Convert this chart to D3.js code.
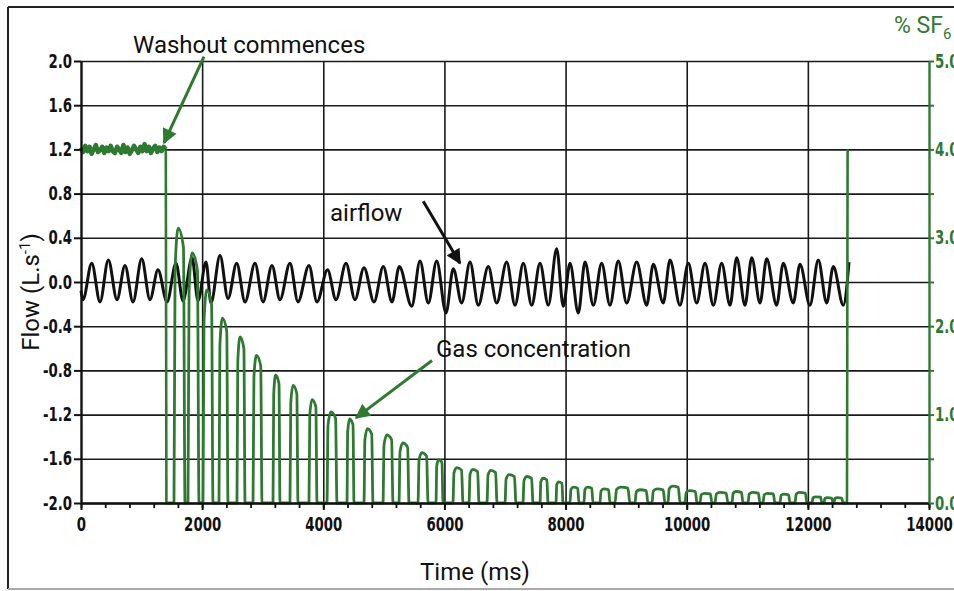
<!DOCTYPE html>
<html>
<head>
<meta charset="utf-8">
<script src="https://cdn.jsdelivr.net/npm/d3@7"></script>
<style>
body { margin: 0; background: #fff; overflow: hidden; }
.tick text { font-family: "Liberation Sans Narrow", "DejaVu Sans Condensed", sans-serif; font-weight: bold; }
</style>
</head>
<body>
<script>
/* global d3:false */

// Airflow (L/s): local peaks and troughs
var flowPeakT = [177, 451, 726, 1002, 1271, 1568, 1833, 2064, 2295, 2570,
	2873, 3153, 3450, 3764, 4070, 4375, 4672, 4991, 5255, 5597,
	5872, 6146, 6422, 6724, 7028, 7302, 7578, 7853, 8073, 8321,
	8596, 8870, 9174, 9448, 9724, 10026, 10302, 10577, 10825, 11073,
	11320, 11594, 11870, 12172, 12420];
var flowPeakV = [0.17, 0.20, 0.15, 0.21, 0.11, 0.17, 0.22, 0.18, 0.24, 0.17,
	0.17, 0.15, 0.17, 0.15, 0.11, 0.17, 0.13, 0.14, 0.14, 0.19,
	0.19, 0.12, 0.18, 0.14, 0.18, 0.17, 0.17, 0.30, 0.17, 0.18,
	0.17, 0.19, 0.18, 0.16, 0.20, 0.17, 0.17, 0.17, 0.22, 0.22,
	0.21, 0.17, 0.16, 0.20, 0.14];
var flowTroughT = [33, 314, 594, 858, 1139, 1420, 1684, 1932, 2146, 2427,
	2708, 3005, 3285, 3582, 3896, 4210, 4523, 4837, 5134, 5460,
	5734, 6026, 6285, 6559, 6863, 7165, 7441, 7715, 7962, 8210,
	8458, 8733, 9009, 9339, 9613, 9889, 10165, 10439, 10715, 10962,
	11210, 11485, 11759, 12035, 12311, 12585];
var flowTroughV = [-0.16, -0.18, -0.16, -0.18, -0.16, -0.18, -0.17, -0.17, -0.19, -0.15,
	-0.18, -0.18, -0.16, -0.18, -0.18, -0.16, -0.16, -0.18, -0.18, -0.22,
	-0.19, -0.28, -0.19, -0.21, -0.19, -0.21, -0.21, -0.21, -0.22, -0.28,
	-0.21, -0.21, -0.19, -0.21, -0.19, -0.21, -0.19, -0.21, -0.21, -0.21,
	-0.19, -0.21, -0.19, -0.21, -0.19, -0.21];
var flowStart = [0, -0.08];
var flowEnd = [12680, 0.18];

// % SF6 before washout, one sample every 35 ms
var preWashoutStep = 35;
var preWashoutV = [4.02, 3.97, 4.04, 3.98, 4.03, 3.95, 4.00, 4.05, 3.97, 3.99,
	4.03, 3.96, 4.02, 3.98, 4.04, 3.98, 3.96, 4.03, 4.00, 3.96,
	4.05, 3.97, 4.02, 3.95, 3.99, 4.04, 4.00, 3.96, 4.03, 3.98,
	4.06, 3.98, 4.03, 3.96, 4.01, 4.04, 3.97, 4.02, 3.98, 4.03, 4.00];
var washoutT = 1410;

// % SF6 pulses during washout: start, end (ms) and peak value
var gasRise = [1535, 1766, 2014, 2278, 2575, 2840, 3170, 3450, 3764, 4061,
	4391, 4672, 4986, 5250, 5564, 5861, 6141, 6406, 6703, 7000,
	7297, 7578, 7842, 8073, 8304, 8568, 8816, 9146, 9427, 9691,
	9972, 10219, 10467, 10748, 11012, 11259, 11540, 11788, 12068, 12266, 12431];
var gasFall = [1717, 1948, 2179, 2427, 2708, 2988, 3285, 3582, 3896, 4226,
	4507, 4820, 5151, 5415, 5729, 5976, 6306, 6571, 6868, 7181,
	7462, 7710, 7957, 8221, 8453, 8733, 9063, 9361, 9641, 9889,
	10170, 10417, 10681, 10929, 11210, 11457, 11705, 11986, 12233, 12415, 12580];
var gasPeak = [3.11, 2.83, 2.41, 2.09, 1.88, 1.67, 1.45, 1.33, 1.17, 1.03,
	0.95, 0.84, 0.77, 0.68, 0.57, 0.49, 0.40, 0.38, 0.37, 0.32,
	0.30, 0.28, 0.24, 0.18, 0.18, 0.16, 0.18, 0.15, 0.16, 0.19,
	0.14, 0.11, 0.12, 0.13, 0.12, 0.11, 0.10, 0.12, 0.07, 0.06, 0.06];
var refillT = 12646;
var refillV = 4.0;

// Axis ticks
var flowTicks = [-2.0, -1.6, -1.2, -0.8, -0.4, 0.0, 0.4, 0.8, 1.2, 1.6, 2.0];
var sfTicks = [0, 0.5, 1, 1.5, 2, 2.5, 3, 3.5, 4, 4.5, 5];
var timeTicks = [0, 2000, 4000, 6000, 8000, 10000, 12000, 14000];
var timeMinorStep = 400;

var w = 954;
var h = 591;
var green = '#2f7a31';

var svg = d3.select('body')
	.append('svg')
	.attr('width', w)
	.attr('height', h);

// frame
svg.append('line').attr('x1', 8).attr('x2', w).attr('y1', 7).attr('y2', 7)
	.attr('stroke', '#222').attr('stroke-width', 2);
svg.append('line').attr('x1', 8).attr('x2', 8).attr('y1', 7).attr('y2', 589)
	.attr('stroke', '#222').attr('stroke-width', 2);
svg.append('line').attr('x1', 8).attr('x2', w).attr('y1', 589).attr('y2', 589)
	.attr('stroke', '#aaa').attr('stroke-width', 2);

// scales
var x = d3.scaleLinear().domain([0, 14000]).range([81, 929]);
var y = d3.scaleLinear().domain([-2, 2]).range([503, 61]);
var y2 = d3.scaleLinear().domain([0, 5]).range([503, 61]);

// grid
var gridH = svg.append('g')
	.attr('transform', 'translate(81,0)')
	.call(d3.axisLeft(y).tickValues(flowTicks).tickSize(-848).tickFormat(''));
gridH.select('.domain').remove();
gridH.selectAll('line').attr('stroke', '#1a1a1a').attr('stroke-width', 1.6);

var gridV = svg.append('g')
	.attr('transform', 'translate(0,503)')
	.call(d3.axisBottom(x).tickValues(timeTicks.slice(1, -1)).tickSize(-442).tickFormat(''));
gridV.select('.domain').remove();
gridV.selectAll('line').attr('stroke', '#1a1a1a').attr('stroke-width', 1.6);

// airflow line
var flowPts = [flowStart];
flowTroughT.forEach(function(t, i) {
	flowPts.push([t, flowTroughV[i]]);
	if (i < flowPeakT.length) flowPts.push([flowPeakT[i], flowPeakV[i]]);
});
flowPts.push(flowEnd);

var flowLine = d3.line()
	.x(function(d) { return x(d[0]); })
	.y(function(d) { return y(d[1]); })
	.curve(d3.curveMonotoneX);

svg.append('path')
	.datum(flowPts)
	.attr('d', flowLine)
	.attr('fill', 'none')
	.attr('stroke', '#111')
	.attr('stroke-width', 3)
	.attr('stroke-linejoin', 'round');

// gas concentration line
var prePts = preWashoutV.map(function(v, i) { return [i * preWashoutStep, v]; });
var gasPts = [[washoutT, 0]];
gasRise.forEach(function(r, i) {
	var f = gasFall[i], p = gasPeak[i], wd = f - r;
	gasPts.push([r, 0]);
	gasPts.push([r + wd * 0.1, p * 0.85]);
	gasPts.push([r + wd * 0.38, p]);
	gasPts.push([f - wd * 0.14, p * 0.93]);
	gasPts.push([f, 0]);
});
gasPts.push([refillT, 0]);

var gasLine = d3.line()
	.x(function(d) { return x(d[0]); })
	.y(function(d) { return y2(d[1]); })
	.curve(d3.curveMonotoneX);
var gasLinear = d3.line()
	.x(function(d) { return x(d[0]); })
	.y(function(d) { return y2(d[1]); });

svg.append('path')
	.datum(prePts)
	.attr('d', gasLinear)
	.attr('fill', 'none')
	.attr('stroke', green)
	.attr('stroke-width', 4.5)
	.attr('stroke-linejoin', 'round');
// drop at washout and refill at the end
svg.append('path')
	.datum([[1400, preWashoutV[preWashoutV.length - 1]], [washoutT, 0]])
	.attr('d', gasLinear)
	.attr('fill', 'none').attr('stroke', green).attr('stroke-width', 2.6);
svg.append('path')
	.datum([[refillT, 0], [refillT + 10, refillV - 0.05], [refillT + 12, refillV]])
	.attr('d', gasLinear)
	.attr('fill', 'none').attr('stroke', green).attr('stroke-width', 2.6);

svg.append('path')
	.datum(gasPts)
	.attr('d', gasLine)
	.attr('fill', 'none')
	.attr('stroke', green)
	.attr('stroke-width', 2.8)
	.attr('stroke-linejoin', 'round');

// left axis
var axL = svg.append('g')
	.attr('transform', 'translate(81,0)')
	.call(d3.axisLeft(y).tickValues(flowTicks).tickSize(7).tickSizeOuter(0)
		.tickFormat(function(d) { return d.toFixed(1); }));
axL.select('.domain').attr('stroke', '#111').attr('stroke-width', 2.4);
axL.selectAll('line').attr('stroke', '#111').attr('stroke-width', 2);
axL.selectAll('text')
	.attr('font-size', 19)
	.attr('fill', '#111')
	.attr('x', -9 / 0.78)
	.attr('transform', 'scale(0.78,1)');

// bottom axis
var axBm = svg.append('g')
	.attr('transform', 'translate(0,503)')
	.call(d3.axisBottom(x).tickValues(d3.range(0, 14001, timeMinorStep)).tickSize(5).tickSizeOuter(0).tickFormat(''));
axBm.select('.domain').remove();
axBm.selectAll('line').attr('stroke', '#111').attr('stroke-width', 1.8);

var axB = svg.append('g')
	.attr('transform', 'translate(0,503)')
	.call(d3.axisBottom(x).tickValues(timeTicks).tickSize(7).tickSizeOuter(0)
		.tickFormat(function(d) { return d; }));
axB.select('.domain').attr('stroke', '#111').attr('stroke-width', 2.4);
axB.selectAll('line').attr('stroke', '#111').attr('stroke-width', 2);
axB.selectAll('text')
	.attr('font-size', 19)
	.attr('fill', '#111')
	.attr('y', 15)
	.attr('transform', 'scale(0.78,1)');

// right axis
var axR = svg.append('g')
	.attr('transform', 'translate(929,0)')
	.call(d3.axisRight(y2).tickValues(sfTicks).tickSize(5).tickSizeOuter(0)
		.tickFormat(function(d) { return d % 1 === 0 ? d.toFixed(1) : ''; }));
axR.select('.domain').attr('stroke', green).attr('stroke-width', 2.4);
axR.selectAll('line').attr('stroke', green).attr('stroke-width', 2);
axR.selectAll('text')
	.attr('font-size', 19)
	.attr('fill', green)
	.attr('x', 6 / 0.78)
	.attr('transform', 'scale(0.78,1)');

// axis titles
var font = 'Roboto, "Open Sans", sans-serif';
svg.append('text')
	.attr('x', 475).attr('y', 580)
	.attr('text-anchor', 'middle')
	.attr('font-family', font).attr('font-size', 24).attr('fill', '#111')
	.text('Time (ms)');

var yt = svg.append('text')
	.attr('transform', 'translate(39,292) rotate(-90)')
	.attr('text-anchor', 'middle')
	.attr('font-family', font).attr('font-size', 24).attr('fill', '#111');
yt.append('tspan').text('Flow (L.s');
yt.append('tspan').attr('font-size', 15).attr('dy', -9).text('-1');
yt.append('tspan').attr('dy', 9).text(')');

var sf = svg.append('text')
	.attr('x', 894).attr('y', 33)
	.attr('font-family', font).attr('font-size', 23).attr('fill', green);
sf.append('tspan').text('% SF');
sf.append('tspan').attr('font-size', 15).attr('dy', 6).text('6');

// annotations
var defs = svg.append('defs');
function arrowHead(id, col) {
	defs.append('marker')
		.attr('id', id)
		.attr('viewBox', '0 0 10 10')
		.attr('refX', 9).attr('refY', 5)
		.attr('markerUnits', 'userSpaceOnUse')
		.attr('markerWidth', 17).attr('markerHeight', 15)
		.attr('orient', 'auto')
		.append('path')
		.attr('d', 'M0,0 L10,5 L0,10 Z')
		.attr('fill', col);
}
arrowHead('arrG', green);
arrowHead('arrK', '#111');

function note(txt, tx, ty, x1, y1, x2, y2v, col, mk) {
	svg.append('text')
		.attr('x', tx).attr('y', ty)
		.attr('font-family', font).attr('font-size', 24).attr('fill', '#111')
		.text(txt);
	svg.append('line')
		.attr('x1', x(x1)).attr('y1', y(y1))
		.attr('x2', x(x2)).attr('y2', y(y2v))
		.attr('stroke', col).attr('stroke-width', 3)
		.attr('marker-end', 'url(#' + mk + ')');
}
note('Washout commences', 133, 53, 2031, 2.04, 1370, 1.26, green, 'arrG');
note('airflow', 330, 221, 5650, 0.73, 6257, 0.17, '#111', 'arrK');
note('Gas concentration', 436, 357, 5795, -0.71, 4540, -1.23, green, 'arrG');
</script>
</body>
</html>
